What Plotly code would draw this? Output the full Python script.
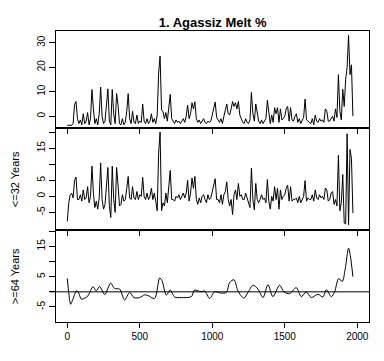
import plotly.graph_objects as go

# ---------------- data ----------------
years = list(range(0, 1980, 10))

melt_pct = [
    -3.7, -3.7, -3.7, -3.7, -3.0, 4.8, 6.0, -1.0, -3.0, -1.5,
    -3.5, 1.0, -3.0, -2.0, 1.5, -3.5, -1.0, 10.9, 3.0, -3.0,
    -1.0, -3.5, 1.0, 11.9, 0.0, -3.0, -2.0, 4.0, 11.2, -2.0,
    -3.5, 10.9, 1.0, -3.0, 9.3, 4.5, -3.0, -3.5, -1.0, -3.5,
    -2.5, 2.0, 9.2, -1.0, -3.0, 2.0, -2.5, -3.0, 0.5, -3.0,
    -2.0, -2.5, 5.0, -2.0, -3.0, -1.0, -3.0, -2.0, 1.0, -2.5,
    -1.0, -3.0, 0.5, 17.6, 24.6, 2.5, 2.0, -1.0, 1.5, -2.0,
    3.0, 8.9, -1.0, -2.0, -3.0, -1.5, -2.5, -2.0, -3.0, -2.0,
    -1.0, -2.5, 0.0, 4.5, -1.0, 1.0, 5.5, 3.0, 5.9, -1.0,
    -2.5, -1.5, -3.0, -2.0, -1.0, -2.5, -3.0, -2.0, -2.5, -2.0,
    0.5, 3.0, 5.8, -0.5, -1.5, -2.5, -1.0, -3.0, 0.0, 2.0,
    5.0, 1.0, 0.5, 3.0, 6.0, 4.0, 5.5, 3.0, 6.0, 0.5,
    -1.0, -2.5, -3.0, -1.0, -2.5, -3.0, -1.5, 9.7, 1.0, -2.0,
    5.0, 1.0, -2.0, -3.0, -1.5, -3.0, -2.0, -1.0, 6.5, 2.0,
    -3.0, 0.5, -2.5, 3.5, 1.0, 3.5, -2.5, 3.0, -1.5, -1.0,
    0.0, 3.0, 4.0, -2.0, 3.5, -1.5, -2.0, 0.0, 1.0, -2.5,
    -1.0, -3.0, -2.0, -0.5, 7.0, -1.5, -2.0, -2.5, -3.0, -1.0,
    -3.5, 0.5, -2.0, -2.5, -1.0, -2.0, -1.5, -2.5, 3.0, 2.0,
    -2.0, -2.0, -1.0, 0.0, -2.0, 3.0, -0.5, 17.0, 2.0, -1.5,
    11.0, 4.0, 15.0, 20.0, 33.0, 17.0, 21.0, 0.0,
]

high_pass = [
    -7.8, -2.0, 0.5, 1.0, -0.5, 5.0, 6.0, -1.0, -1.0, 0.5,
    -1.5, 2.0, -1.0, -0.5, 3.0, -2.0, 0.0, 9.4, 1.0, -3.5,
    -1.5, -4.0, -0.5, 10.4, -1.0, -4.0, -2.5, 3.0, 9.0, -3.0,
    -6.6, 9.4, -1.0, -5.0, 9.0, 3.5, -3.0, -2.5, 0.5, -1.5,
    -1.0, 2.5, 6.2, -0.5, -1.0, 3.0, -0.5, -1.0, 1.5, -1.0,
    0.5, 0.0, 5.9, 0.0, -1.0, 1.0, -1.0, 0.0, 2.5, -1.0,
    1.0, -1.5, -4.5, 13.5, 20.0, -4.5, -2.0, -3.0, 1.0, -2.0,
    3.0, 8.1, -1.0, -1.0, -1.5, 0.0, -0.5, 0.5, -1.0, 0.0,
    1.0, -0.5, 1.0, 5.0, -1.5, 1.0, 5.7, 2.5, 6.2, -1.0,
    -2.5, -0.5, -2.0, 0.0, 0.5, -1.0, -2.0, 0.5, -1.0, -0.5,
    1.5, 3.0, 5.5, -1.0, -1.0, -2.0, 0.5, -2.5, 0.5, 1.5,
    4.5, -1.0, -3.0, -1.0, -5.7, 0.5, 2.0, -1.0, 4.0, 0.0,
    0.5, -1.0, -1.0, 1.0, -0.5, -2.5, -3.5, 8.8, -1.0, -4.2,
    4.0, -1.0, -2.0, -1.0, 0.5, -1.0, -0.5, -2.0, 5.2, -1.5,
    -4.0, 0.0, -1.5, 3.0, -1.0, 2.5, -4.0, 2.0, -1.0, 0.0,
    0.5, 2.5, 3.5, -1.5, 3.0, -1.5, -1.0, -1.0, -0.5, -2.0,
    0.0, -2.0, -1.0, 0.0, 4.9, -1.5, -0.5, -1.0, -1.0, 0.5,
    -1.5, 2.0, -0.5, -1.0, 0.5, -0.5, 0.0, -1.0, 2.6, 2.0,
    -1.5, -1.0, 1.0, 1.5, -2.5, -1.0, -3.0, 12.8, -4.5, -2.0,
    6.8, -8.3, -8.6, 19.5, -8.9, 14.6, 11.8, -5.2,
]

smooth_years = [0, 11, 23, 39, 62, 74, 97, 120, 143, 177, 200, 223, 258, 299, 326,
                361, 395, 430, 460, 499, 533, 556, 602, 637, 653, 683, 710, 740, 786,
                855, 878, 924, 947, 982, 1016, 1062, 1097, 1120, 1150, 1177, 1218,
                1246, 1281, 1315, 1350, 1384, 1418, 1464, 1494, 1533, 1579, 1614,
                1648, 1683, 1729, 1763, 1786, 1821, 1844, 1871, 1897, 1917, 1940,
                1952, 1970]
low_pass = [4.4, -0.8, -4.1, -2.4, 0.3, 0.0, -2.4, -2.1, -1.3, 1.7, 0.3, 1.8, -0.9,
            2.9, 1.1, 0.9, -2.7, -0.2, -1.9, -1.9, -1.0, -1.2, -2.2, 4.6, 3.7, -1.1,
            0.6, -1.7, -1.9, -1.6, 0.6, 0.0, 0.3, -2.2, 0.0, -0.4, -0.2, 3.1, 4.0,
            0.3, -2.1, -0.2, 2.2, 0.9, -1.9, 2.4, -1.6, 2.2, 0.0, -0.6, 1.4, -1.6,
            0.0, -1.9, -0.8, -1.7, 0.7, -1.6, 0.0, 4.4, 3.4, 7.6, 14.4, 12.0, 5.0]

baseline = 0

x_ticks = [0, 500, 1000, 1500, 2000]
title_text = "1. Agassiz Melt %"
label_hp = "<=32 Years"
label_lp = ">=64 Years"

# ---------------- figure ----------------
FONT = "Liberation Sans, Arial, sans-serif"
fig = go.Figure()

line = dict(color="black", width=1)
fig.add_trace(go.Scatter(x=years, y=melt_pct, mode="lines", line=line,
                         xaxis="x3", yaxis="y3", showlegend=False, hoverinfo="skip"))
fig.add_trace(go.Scatter(x=years, y=high_pass, mode="lines", line=line,
                         xaxis="x2", yaxis="y2", showlegend=False, hoverinfo="skip"))
fig.add_trace(go.Scatter(x=smooth_years, y=low_pass, mode="lines",
                         line=dict(color="black", width=1, shape="spline", smoothing=0.8),
                         xaxis="x", yaxis="y", showlegend=False, hoverinfo="skip"))

xr = [-78, 2081]
common_x = dict(range=xr, showgrid=False, zeroline=False, showline=True, mirror=True,
                linecolor="black", linewidth=1, ticks="outside", ticklen=5,
                tickcolor="black", tickvals=x_ticks, fixedrange=True)
common_y = dict(showgrid=False, zeroline=False, showline=True, mirror=True,
                linecolor="black", linewidth=1, ticks="outside", ticklen=6,
                tickcolor="black", tickangle=-90,
                tickfont=dict(family=FONT, size=10, color="black"))

b1 = 0.3172
b2 = 0.6667

fig.update_layout(
    width=384, height=361,
    margin=dict(l=48, r=23, t=23, b=47, pad=0),
    paper_bgcolor="white", plot_bgcolor="white",
    font=dict(family=FONT, color="black"),
    title=dict(text="<b>" + title_text + "</b>", x=0.533, xref="container",
               xanchor="center", y=1 - 14.5 / 361, yanchor="middle",
               font=dict(family=FONT, size=13, color="black")),
    xaxis=dict(**common_x, anchor="y", domain=[0, 1], showticklabels=True,
               tickfont=dict(family=FONT, size=10, color="black")),
    xaxis2=dict(**common_x, anchor="y2", domain=[0, 1], showticklabels=False),
    xaxis3=dict(**common_x, anchor="y3", domain=[0, 1], showticklabels=False),
    yaxis=dict(**common_y, anchor="x", domain=[0, b1], range=[-9.95, 20.5],
               tickvals=[-5, 0, 5, 10, 15, 20], ticktext=["-5", "", "5", "", "15", ""]),
    yaxis2=dict(**common_y, anchor="x2", domain=[b1, b2], range=[-10.4, 21.3],
                tickvals=[-5, 0, 5, 10, 15, 20], ticktext=["-5", "0", "5", "", "15", ""]),
    yaxis3=dict(**common_y, anchor="x3", domain=[b2, 1], range=[-4.8, 34.8],
                tickvals=[0, 10, 20, 30]),
    shapes=[dict(type="line", xref="x domain", yref="y", x0=-0.02, x1=1, y0=baseline, y1=baseline,
                 line=dict(color="black", width=1), layer="above")],
    annotations=[
        dict(text=label_hp, textangle=-90, xref="paper", x=-0.13, xanchor="center",
             yref="y2 domain", y=0.5, yanchor="middle", showarrow=False,
             font=dict(family=FONT, size=11, color="black")),
        dict(text=label_lp, textangle=-90, xref="paper", x=-0.13, xanchor="center",
             yref="y domain", y=0.5, yanchor="middle", showarrow=False,
             font=dict(family=FONT, size=11, color="black")),
    ],
)

fig.write_html("out.html")
